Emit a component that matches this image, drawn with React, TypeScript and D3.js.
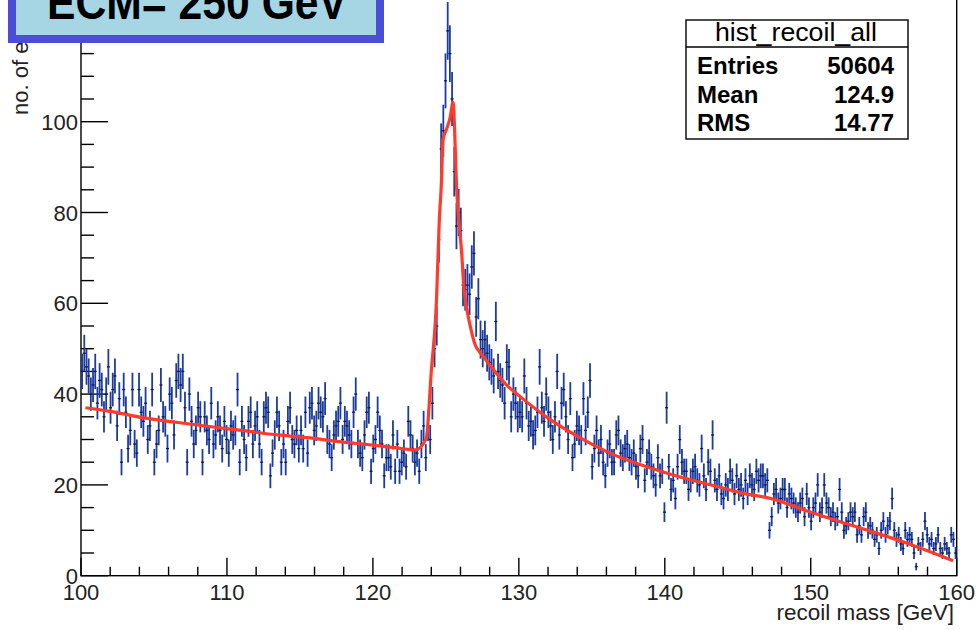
import React from 'react';
import * as d3 from 'd3';

// Histogram binning
const BIN_START = 100;
const BIN_WIDTH = 0.15;
const ERR_SCALE = 0.58; // weighted-event error factor

// Bin contents (400 bins of 0.15 GeV, 100–160 GeV)
const counts: number[] = [
  45, 49, 46, 44, 40, 42, 45, 38, 43, 41,
  35, 40, 46, 37, 41, 44, 33, 39, 25, 41,
  36, 28, 32, 41, 29, 27, 41, 36, 34, 38,
  30, 33, 41, 25, 29, 32, 42, 35, 34, 28,
  40, 38, 31, 43, 45, 42, 45, 37, 25, 40,
  34, 29, 32, 37, 35, 25, 35, 32, 30, 38,
  29, 31, 35, 32, 28, 34, 30, 27, 33, 31,
  32, 41, 25, 34, 30, 26, 34, 36, 29, 33,
  35, 29, 25, 35, 37, 36, 22, 27, 31, 36,
  33, 25, 29, 25, 34, 37, 30, 29, 32, 28,
  32, 28, 36, 27, 37, 38, 32, 33, 38, 36,
  35, 39, 30, 29, 26, 31, 33, 34, 38, 30,
  34, 33, 31, 29, 36, 40, 29, 27, 26, 31,
  36, 37, 23, 28, 30, 36, 32, 29, 22, 26,
  26, 24, 31, 23, 29, 23, 25, 27, 24, 34,
  31, 28, 25, 27, 23, 29, 33, 26, 33, 30,
  38, 50, 55, 74, 94, 98, 109, 120, 115, 105,
  89, 77, 80, 76, 64, 63, 64, 62, 68, 71,
  57, 61, 52, 50, 52, 49, 47, 46, 44, 56,
  45, 43, 42, 38, 47, 46, 35, 40, 38, 35,
  36, 35, 44, 38, 33, 34, 31, 32, 36, 46,
  37, 34, 40, 36, 33, 30, 35, 45, 31, 38,
  41, 35, 30, 39, 26, 29, 33, 32, 30, 39,
  32, 36, 43, 24, 28, 32, 27, 30, 25, 22,
  27, 29, 25, 25, 31, 32, 27, 26, 28, 29,
  26, 25, 27, 24, 22, 28, 30, 21, 25, 27,
  24, 22, 20, 26, 22, 23, 14, 37, 24, 19,
  21, 17, 24, 30, 25, 23, 23, 19, 21, 23,
  24, 21, 20, 28, 22, 19, 25, 23, 31, 21,
  19, 22, 18, 17, 20, 19, 23, 21, 18, 22,
  19, 20, 17, 21, 18, 22, 20, 19, 23, 21,
  22, 22, 20, 21, 10, 13, 18, 19, 16, 17,
  19, 19, 15, 18, 17, 16, 15, 14, 16, 17,
  13, 18, 15, 12, 15, 16, 20, 14, 15, 20,
  16, 15, 13, 14, 12, 13, 19, 14, 10, 11,
  12, 14, 13, 14, 9, 11, 9, 13, 14, 10,
  11, 10, 8, 9, 6, 10, 12, 9, 11, 12,
  17, 10, 8, 9, 7, 6, 10, 8, 9, 8,
  5, 2, 7, 6, 8, 12, 9, 7, 8, 6,
  7, 9, 6, 5, 7, 6, 5, 9, 8, 5,
];

// Fit function, read at points along the red curve
const fitMass: number[] = [
  100.3, 102, 104.4, 106.5, 108.9, 111, 113.5, 115.5, 117.5, 119.6, 121.5, 122.9,
  123.65, 124.0, 124.36, 124.54, 124.7, 124.8, 125.05, 125.27, 125.5, 125.6, 125.73,
  125.9, 126.07, 126.23, 126.42, 126.64, 126.99, 127.4, 127.79, 128.4, 129.16, 130.07, 132.0,
  134.3, 136.6, 138.86, 141.1, 143.4, 145.3, 147.4, 149.7, 152.0, 154.3, 156.55, 159.75,
];
const fitValue: number[] = [
  37.0, 36.2, 34.7, 33.8, 32.8, 32.0, 31.0, 30.4, 29.6, 28.9, 28.2, 27.7,
  30.2, 45, 61, 77.6, 87, 96, 98.4, 100.6, 104.3, 98, 85.8,
  77.6, 71.7, 63.6, 59, 55.4, 51, 48.9, 47.3, 44.8, 42, 39.5, 34.7,
  30.2, 26.5, 23.9, 21.7, 19.8, 18.2, 16.9, 14.3, 11.9, 9.6, 7.2, 3.3,
];

const xMajorTicks = [100, 110, 120, 130, 140, 150, 160];
const yMajorTicks = [0, 20, 40, 60, 80, 100];

const titleText = 'ECM= 250 GeV';
const xTitle = 'recoil mass [GeV]';
const yTitle = 'no. of events';
const statsName = 'hist_recoil_all';
const statsLabels = ['Entries', 'Mean', 'RMS'];
const statsValues = ['50604', '124.9', '14.77'];

const FONT = '"Liberation Sans", Arial, Helvetica, sans-serif';

export default function App() {
  const W = 976;
  const H = 630;
  const x = d3.scaleLinear().domain([100, 160]).range([81, 956.7]);
  const y = d3.scaleLinear().domain([0, 100]).range([575.7, 121.7]);

  const xMinor = d3.range(100, 160.001, 2).filter((v) => !xMajorTicks.includes(Math.round(v)));
  const yMinor = d3.range(0, 135, 5).filter((v) => v % 20 !== 0);

  const bins = counts.map((c, i) => {
    const lo = BIN_START + i * BIN_WIDTH;
    const center = lo + BIN_WIDTH / 2;
    const err = ERR_SCALE * Math.sqrt(c);
    return { lo, hi: lo + BIN_WIDTH, center, c, err };
  });

  const line = d3
    .line<number>()
    .x((_, i) => x(fitMass[i]))
    .y((d) => y(d))
    .curve(d3.curveMonotoneX);

  const frameTop = y(140);

  return (
    <div style={{ position: 'absolute', left: 0, top: 0 }}>
      <svg width={W} height={H} style={{ display: 'block', background: '#fff' }}>
        {/* frame */}
        <rect
          x={x(100)}
          y={frameTop}
          width={x(160) - x(100)}
          height={y(0) - frameTop}
          fill="none"
          stroke="#000"
          strokeWidth={1.4}
        />
        {/* x ticks */}
        {xMajorTicks.map((t) => (
          <line key={'xM' + t} x1={x(t)} x2={x(t)} y1={y(0)} y2={y(0) - 18} stroke="#000" strokeWidth={1.4} />
        ))}
        {xMinor.map((t) => (
          <line key={'xm' + t} x1={x(t)} x2={x(t)} y1={y(0)} y2={y(0) - 9} stroke="#000" strokeWidth={1.4} />
        ))}
        {xMajorTicks.map((t) => (
          <text key={'xl' + t} x={x(t)} y={600} fontSize={22} fontFamily={FONT} textAnchor="middle" fill="#222">
            {t}
          </text>
        ))}
        <text x={954} y={620} fontSize={22.5} fontFamily={FONT} textAnchor="end" fill="#222">
          {xTitle}
        </text>
        {/* y ticks */}
        {yMajorTicks.concat([120]).map((t) => (
          <line key={'yM' + t} x1={x(100)} x2={x(100) + 27} y1={y(t)} y2={y(t)} stroke="#000" strokeWidth={1.4} />
        ))}
        {yMinor.map((t) => (
          <line key={'ym' + t} x1={x(100)} x2={x(100) + 13} y1={y(t)} y2={y(t)} stroke="#000" strokeWidth={1.4} />
        ))}
        {yMajorTicks.map((t) => (
          <text key={'yl' + t} x={78} y={y(t) + 8} fontSize={22} fontFamily={FONT} textAnchor="end" fill="#222">
            {t}
          </text>
        ))}
        <text
          transform={`translate(28,115) rotate(-90)`}
          fontSize={22}
          fontFamily={FONT}
          textAnchor="start"
          fill="#222"
        >
          {yTitle}
        </text>

        {/* data error bars */}
        <g>
          {bins.map((b, i) => (
            <line
              key={'ev' + i}
              x1={x(b.center)}
              x2={x(b.center)}
              y1={y(b.c - b.err)}
              y2={y(b.c + b.err)}
              stroke="#1d3c9e"
              strokeWidth={1.8}
            />
          ))}
          {bins.map((b, i) => (
            <line
              key={'eh' + i}
              x1={x(b.lo) - 0.4}
              x2={x(b.hi) + 0.4}
              y1={y(b.c)}
              y2={y(b.c)}
              stroke="#0a1850"
              strokeWidth={1.3}
            />
          ))}
        </g>

        {/* fit */}
        <path d={line(fitValue) || ''} fill="none" stroke="#ff3b2c" strokeWidth={3.2} strokeLinejoin="round" />

        {/* title box */}
        <rect x={12} y={-20} width={368} height={59} fill="#a6d6e4" stroke="#4a4dd6" strokeWidth={8} />
        <text
          x={47}
          y={19}
          fontSize={48}
          fontWeight="bold"
          fontFamily={FONT}
          fill="#000"
          textLength={300}
          lengthAdjust="spacingAndGlyphs"
        >
          {titleText}
        </text>

        {/* stats box */}
        <rect x={686} y={20} width={222} height={119} fill="#fff" stroke="#000" strokeWidth={1.4} />
        <line x1={686} x2={908} y1={47} y2={47} stroke="#000" strokeWidth={1.4} />
        <text x={796} y={41} fontSize={25} fontFamily={FONT} textAnchor="middle" fill="#000" textLength={162} lengthAdjust="spacingAndGlyphs">
          {statsName}
        </text>
        {statsLabels.map((l, i) => (
          <g key={'st' + l}>
            <text x={697} y={74 + i * 28.5} fontSize={24} fontWeight="bold" fontFamily={FONT} fill="#000">
              {l}
            </text>
            <text x={894} y={74 + i * 28.5} fontSize={24} fontWeight="bold" fontFamily={FONT} textAnchor="end" fill="#000">
              {statsValues[i]}
            </text>
          </g>
        ))}
      </svg>
    </div>
  );
}
